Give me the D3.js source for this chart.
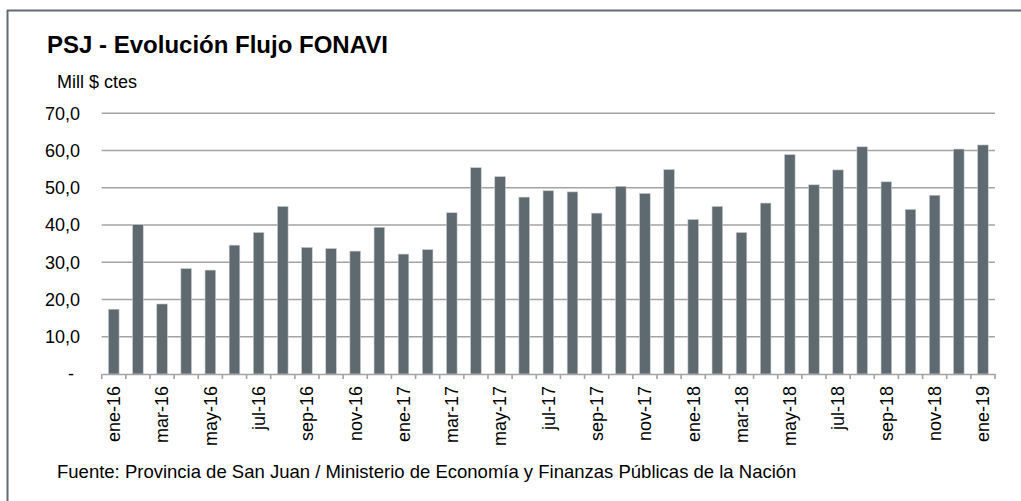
<!DOCTYPE html>
<html><head><meta charset="utf-8">
<script src="https://cdn.jsdelivr.net/npm/d3@7"></script>
<style>
html,body{margin:0;padding:0;background:#fff;}
text{font-family:"Liberation Sans",Arial,sans-serif;fill:#000;}
</style></head>
<body>
<svg id="chart" width="1021" height="501"></svg>
<script>
const categories = ["ene-16","feb-16","mar-16","abr-16","may-16","jun-16","jul-16","ago-16","sep-16","oct-16","nov-16","dic-16",
"ene-17","feb-17","mar-17","abr-17","may-17","jun-17","jul-17","ago-17","sep-17","oct-17","nov-17","dic-17",
"ene-18","feb-18","mar-18","abr-18","may-18","jun-18","jul-18","ago-18","sep-18","oct-18","nov-18","dic-18","ene-19"];
const values = [17.4,40.1,18.8,28.3,27.9,34.6,38.0,45.0,34.0,33.7,33.0,39.4,
32.2,33.4,43.3,55.4,53.0,47.5,49.2,48.9,43.2,50.4,48.5,54.9,
41.5,45.0,38.0,45.9,58.9,50.8,54.8,61.0,51.6,44.2,48.0,60.4,61.5];
const yTicks = [0,10,20,30,40,50,60,70];
const title = "PSJ - Evolución Flujo FONAVI";
const unit = "Mill $ ctes";
const source = "Fuente: Provincia de San Juan / Ministerio de Economía y Finanzas Públicas de la Nación";

const svg = d3.select("#chart");
const pLeft = 101.7, pRight = 995, pTop = 113.3, pBottom = 374;

// frame
svg.append("line").attr("x1",7).attr("x2",1021).attr("y1",10.5).attr("y2",10.5).attr("stroke","#5f6b75").attr("stroke-width",2);
svg.append("line").attr("x1",7.5).attr("x2",7.5).attr("y1",10).attr("y2",501).attr("stroke","#5f6b75").attr("stroke-width",2);

svg.append("text").attr("x",47).attr("y",53).style("font-size","24px").style("font-weight","bold").text(title);
svg.append("text").attr("x",57).attr("y",88).style("font-size","18px").text(unit);

const x = d3.scaleBand().domain(categories).range([pLeft,pRight]).padding(0);
const y = d3.scaleLinear().domain([0,70]).range([pBottom,pTop]);

// gridlines
svg.append("g").selectAll("line").data(yTicks.filter(d=>d>0)).join("line")
  .attr("x1",pLeft).attr("x2",pRight).attr("y1",d=>y(d)).attr("y2",d=>y(d))
  .attr("stroke","#a3a3a3").attr("stroke-width",1.6);

// y labels
svg.append("g").selectAll("text").data(yTicks).join("text")
  .attr("x",d=>d===0?74:80).attr("y",d=>y(d)).attr("dy","0.35em")
  .attr("text-anchor","end").style("font-size","18px")
  .text(d=>d===0?"-":d3.format(".1f")(d).replace(".",","));

// bars
const bw = x.step()*0.44;
svg.append("g").selectAll("rect").data(values).join("rect")
  .attr("x",(d,i)=>x(categories[i])+x.step()/2-bw/2)
  .attr("width",bw)
  .attr("y",d=>y(d)).attr("height",d=>y(0)-y(d))
  .attr("fill","#5e6970").attr("stroke","#c9ced2").attr("stroke-width",0.6);

// x axis
const xAxis = d3.axisBottom(x).tickSize(0).tickFormat((d,i)=>i%2===0?d:"");
const gx = svg.append("g").attr("transform",`translate(0,${pBottom})`).call(xAxis);
gx.select(".domain").attr("stroke","#a3a3a3").attr("stroke-width",1.6);
gx.selectAll(".tick text").style("font-size","18px").style("font-family","'Liberation Sans',Arial,sans-serif").attr("fill","#000")
  .attr("transform","rotate(-90)").attr("text-anchor","end").attr("x",-12).attr("y",0).attr("dy","0.35em");
// boundary ticks
const bounds = categories.map(c=>x(c)).concat([pRight]);
svg.append("g").selectAll("line").data(bounds).join("line")
  .attr("x1",d=>d).attr("x2",d=>d).attr("y1",pBottom).attr("y2",pBottom+5)
  .attr("stroke","#a3a3a3").attr("stroke-width",1.6);

svg.append("text").attr("x",57).attr("y",478).style("font-size","18.5px").text(source);
</script>
</body></html>
